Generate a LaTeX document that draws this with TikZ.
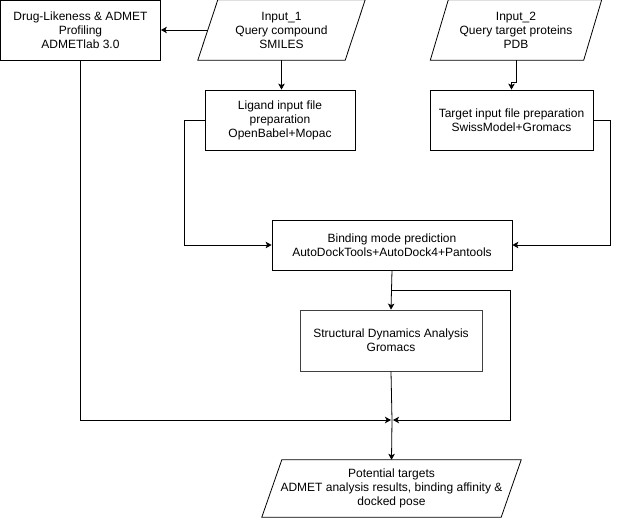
\documentclass[tikz,border=0pt]{standalone}
\usepackage{fontspec}
\setmainfont{Liberation Sans}
\usetikzlibrary{arrows.meta,positioning}
\tikzset{>={Stealth[length=6pt,width=6.5pt,inset=1.5pt]}}

\tikzset{
  box/.style={draw,thick,align=center,inner sep=2pt,font=\fontsize{12}{14}\selectfont},
  io/.style={align=center,inner sep=2pt,font=\fontsize{12}{14}\selectfont},
  flow/.style={->,thick}
}
% parallelogram round an io node, slant in pt
\newcommand{\slantbox}[2]{%
  \draw[thick] ([xshift=-#2]#1.south west) -- ([xshift=-#2]#1.south east)
    -- ([xshift=#2]#1.north east) -- ([xshift=#2]#1.north west) -- cycle;}

\begin{document}
\begin{tikzpicture}[x=1pt,y=-1pt]
    \useasboundingbox (0,0) rectangle (619,528);

    \node[box,minimum width=160,minimum height=60] (drug) at (80.5,30) {Drug-Likeness \& ADMET\\Profiling\\ADMETlab 3.0};
    \node[io,minimum width=147,minimum height=60] (in1) at (281.5,30) {Input\_1\\Query compound\\SMILES};
    \node[io,minimum width=153,minimum height=60] (in2) at (516,30) {Input\_2\\Query target proteins\\PDB};
    \node[box,minimum width=150,minimum height=60] (lig) at (280,120) {Ligand input file\\preparation\\OpenBabel+Mopac};
    \node[box,minimum width=163,minimum height=60] (tgt) at (511.5,120) {Target input file preparation\\SwissModel+Gromacs};
    \node[box,minimum width=240,minimum height=50] (bind) at (392,245) {Binding mode prediction\\AutoDockTools+AutoDock4+Pantools};
    \node[box,draw=black!75,minimum width=182,minimum height=61] (sda) at (391,340.5) {Structural Dynamics Analysis\\Gromacs};
    \node[io,minimum width=239,minimum height=57] (pot) at (391.5,488.5) {Potential targets\\ADMET analysis results, binding affinity \&\\docked pose};

    \slantbox{in1}{10}
    \slantbox{in2}{9}
    \slantbox{pot}{10}

    \coordinate (split) at (392,290);
    \coordinate (join) at (392,420);

    \draw[flow] (in1.west) -- (drug.east);
    \draw[flow] (in1.south) -- (in1.south |- lig.north);
    \draw[flow] (in2.south) -- ++(0,22) -| (tgt.north);
    \draw[flow] (lig.west) -- ++(-20,0) |- (bind.west);
    \draw[flow] (tgt.east) -- ++(17,0) |- (bind.east);
    \draw[flow] (bind.south) -- (sda.north);
    \draw[flow] (split) -| (510,420) -- ([xshift=1]join);
    \draw[flow] (drug.south) |- ([xshift=-1]join);
    \draw[thick] (sda.south) -- (join);
    \draw[flow] (join) -- (pot.north);

  \end{tikzpicture}
\end{document}
